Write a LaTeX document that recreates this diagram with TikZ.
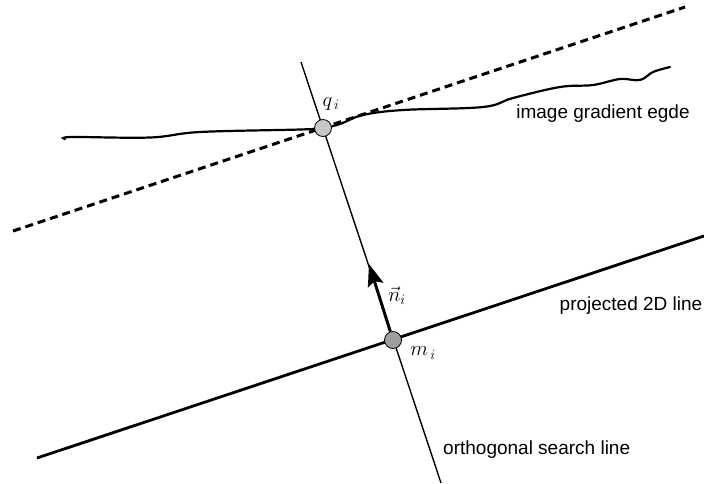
\documentclass[tikz,border=0pt]{standalone}
\usepackage{fontspec}
\setmainfont{Liberation Sans}
\usetikzlibrary{arrows.meta}
\begin{document}
\begin{tikzpicture}[x=1pt,y=-1pt,
  lbl/.style={font=\fontsize{19}{22}\selectfont, inner sep=0pt},
  mlbl/.style={font=\fontsize{22}{26}\selectfont, inner sep=0pt},
  pt/.style={circle, draw=black, line width=0.8pt, minimum size=17pt, inner sep=0pt},
  thickline/.style={line width=2.8pt},
  thinline/.style={line width=1.4pt},
  dashline/.style={line width=3pt, dash pattern=on 8pt off 5pt},
  edgeline/.style={line width=2.2pt, line cap=round}]
\useasboundingbox (0,0) rectangle (704,483);
% coordinates
\coordinate (o1) at (301,62);
\coordinate (o2) at (441,483);
\coordinate (p1) at (37,458);
\coordinate (p2) at (704,236);
\coordinate (d1) at (13,231);
\coordinate (d2) at (685,7);
\coordinate (tip) at (369,264);
% lines
\draw[dashline] (d1) -- (d2);
\draw[thinline] (o1) -- (o2);
\draw[thickline] (p1) -- (p2);
\draw[edgeline] plot[smooth, tension=0.6] coordinates {(65,139) (72,137) (150,137.5) (200,132) (300,129.5) (323,128) (340,124) (363,115) (403,110) (483,107) (513,98) (560,87) (593,85) (620,79) (640,80) (653,72) (670,67)};
% points
\node[pt, fill=black!22] (q) at (323,128) {};
\node[pt, fill=black!38] (m) at (393,340) {};
\draw[line width=3pt, -{Stealth[length=22pt,width=16pt,inset=4pt]}] (m) -- (tip);
% labels
\node[mlbl] (ql) at (331,104) {$q_{\,i}$};
\node[mlbl] (nl) at (397,296) {$\vec{n}_{i}$};
\node[mlbl] (ml) at (423,353) {$m_{\,i}$};
\node[lbl] (t1) at (603,114) {image gradient egde};
\node[lbl] (t2) at (631,306) {projected 2D line};
\node[lbl, anchor=west] (t3) at (443,450) {orthogonal search line};
\end{tikzpicture}
\end{document}
